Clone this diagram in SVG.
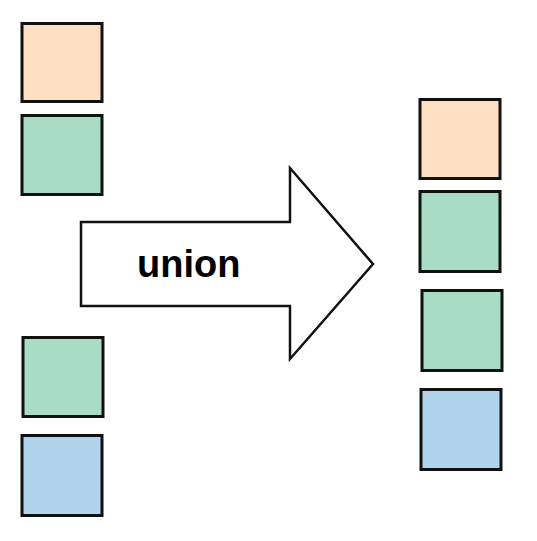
<svg xmlns="http://www.w3.org/2000/svg" width="537" height="541" viewBox="0 0 537 541">
<style>
.box{stroke:#111;stroke-width:3}
.o{fill:#FFDFC4}
.g{fill:#A8DCC4}
.b{fill:#B1D4EC}
.lbl{font-family:"Liberation Sans",Arial,sans-serif;font-weight:bold;font-size:38px;fill:#000}
</style>
<rect width="537" height="541" fill="#fff"/>
<g id="left-orange"><rect class="box o" x="22" y="23.5" width="80" height="78"/></g>
<g id="left-green1"><rect class="box g" x="22" y="115.5" width="80" height="79"/></g>
<g id="left-green2"><rect class="box g" x="23" y="337.5" width="80" height="79"/></g>
<g id="left-blue"><rect class="box b" x="22" y="435.5" width="80" height="80"/></g>
<g id="connectors">
<g id="union-arrow">
<polygon points="81,222 290,222 290,168 373,264 290,359 290,306 81,306" fill="#fff" stroke="#111" stroke-width="2.5" stroke-linejoin="miter"/>
<text class="lbl" x="137" y="277">union</text>
</g>
</g>
<g id="right-orange"><rect class="box o" x="420" y="99.5" width="80" height="79"/></g>
<g id="right-green1"><rect class="box g" x="420" y="191.5" width="80" height="80"/></g>
<g id="right-green2"><rect class="box g" x="422" y="290.5" width="80" height="80"/></g>
<g id="right-blue"><rect class="box b" x="421" y="389.5" width="80" height="80"/></g>
</svg>
